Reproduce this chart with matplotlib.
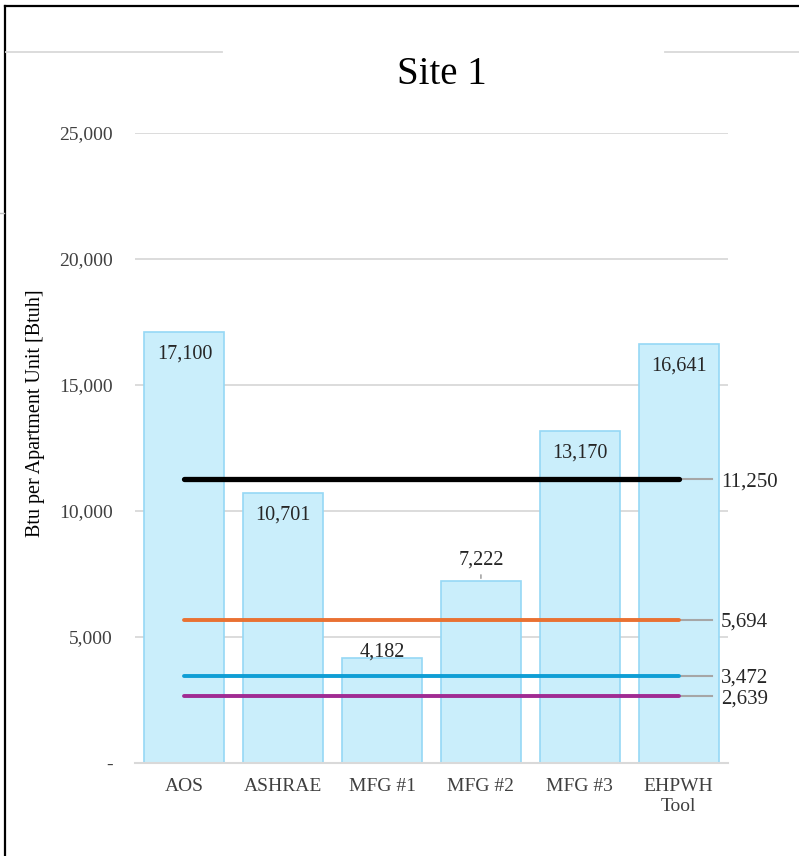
import matplotlib
matplotlib.use("Agg")
import matplotlib.pyplot as plt
from matplotlib.lines import Line2D

plt.rcParams['font.family'] = ['Liberation Serif', 'DejaVu Serif']

categories = ["AOS", "ASHRAE", "MFG #1", "MFG #2", "MFG #3", "EHPWH\nTool"]
values = [17100, 10701, 4182, 7222, 13170, 16641]
# label placement relative to bar top: inside, above, or above with leader
label_modes = ["inside", "inside", "above", "leader", "inside", "inside"]

ref_values = [11250, 5694, 3472, 2639]
ref_colors = ["#000000", "#E97132", "#0F9ED5", "#A02B93"]
ref_widths = [3.8, 2.8, 2.8, 2.8]

yticks = [0, 5000, 10000, 15000, 20000, 25000]
ytick_labels = ["-", "5,000", "10,000", "15,000", "20,000", "25,000"]

fig = plt.figure(figsize=(7.99, 8.56), dpi=100)
ax = fig.add_axes([135/799, 1-763/856, (728-135)/799, (763-133)/856])

x = list(range(len(categories)))
ax.bar(x, values, width=0.81, color="#CAEEFB", edgecolor="#96D8F5", linewidth=1.2, zorder=2)

for i, (v, mode) in enumerate(zip(values, label_modes)):
    txt = f"{v:,}"
    if mode == "inside":
        ax.annotate(txt, (i, v), xytext=(0, -14), textcoords="offset points",
                    ha="center", va="center_baseline", fontsize=14.5, color="#262626", zorder=5)
    elif mode == "above":
        ax.annotate(txt, (i, v), xytext=(0, 6), textcoords="offset points",
                    ha="center", va="center_baseline", fontsize=14.5, color="#262626", zorder=5)
    else:
        ax.annotate(txt, (i, v), xytext=(0, 17), textcoords="offset points",
                    ha="center", va="center_baseline", fontsize=14.5, color="#262626", zorder=5,
                    arrowprops=dict(arrowstyle="-", color="#A6A6A6", lw=1.2,
                                    shrinkA=2, shrinkB=2))

for v, c, w in zip(ref_values, ref_colors, ref_widths):
    ax.plot([0, len(categories) - 1], [v, v], color=c, lw=w, solid_capstyle="round", zorder=4)
    ax.plot([len(categories) - 1, len(categories) - 0.66], [v, v], color="#A6A6A6",
            lw=1.5, zorder=3, clip_on=False)
    ax.text(len(categories) - 0.57, v, f"{v:,}", ha="left", va="center_baseline",
            fontsize=15, color="#262626", clip_on=False)

ax.set_xlim(-0.5, len(categories) - 0.5)
ax.set_ylim(0, 25000)
ax.set_yticks(yticks)
ax.set_yticklabels(ytick_labels)
ax.set_xticks(x)
ax.set_xticklabels(categories, linespacing=1.2)
ax.tick_params(axis="both", length=0, labelsize=14, colors="#404040")
ax.tick_params(axis="y", pad=16)
ax.tick_params(axis="x", pad=11)
ax.yaxis.grid(True, color="#D9D9D9", lw=1.3, zorder=0)
ax.set_axisbelow(True)
for s in ["top", "right", "left"]:
    ax.spines[s].set_visible(False)
ax.spines["bottom"].set_color("#D9D9D9")
ax.spines["bottom"].set_linewidth(1.5)

ax.set_ylabel("Btu per Apartment Unit [Btuh]", fontsize=14.5, color="#000000")
ax.yaxis.set_label_coords((45 - 135) / (728 - 135), (763 - 413) / (763 - 133))
fig.text(442/799, 1-75/856, "Site 1", ha="center", va="center", fontsize=28, color="#000000")

# outer frame and decorative rules
fig.add_artist(Line2D([5/799, 5/799], [0, 1-6/856], color="black", lw=1.6))
fig.add_artist(Line2D([5/799, 1], [1-6/856, 1-6/856], color="black", lw=1.6))
fig.add_artist(Line2D([6/799, 222/799], [1-52/856, 1-52/856], color="#D9D9D9", lw=1.3))
fig.add_artist(Line2D([665/799, 1], [1-52/856, 1-52/856], color="#D9D9D9", lw=1.3))
fig.add_artist(Line2D([0, 4/799], [1-213/856, 1-213/856], color="#BFBFBF", lw=1.0))

fig.savefig("out.png", dpi=100)
